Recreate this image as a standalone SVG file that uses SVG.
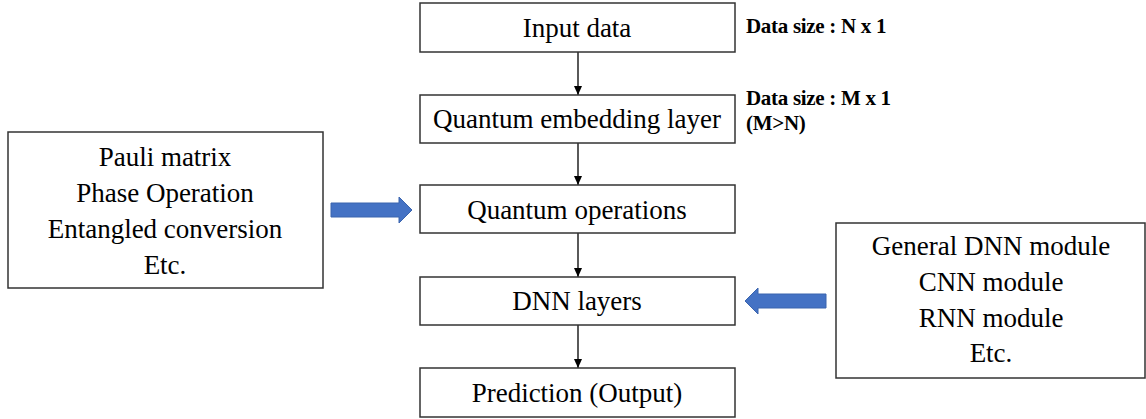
<svg xmlns="http://www.w3.org/2000/svg" width="1146" height="419" viewBox="0 0 1146 419">
<defs>
<style>
.box{fill:#fff;stroke:#333;stroke-width:1.5}
.t{font-family:"Liberation Serif","Times New Roman",serif;font-size:27px;fill:#000;text-anchor:middle}
.lbl{font-family:"Liberation Serif","Times New Roman",serif;font-size:21px;font-weight:bold;fill:#000;letter-spacing:-0.3px}
.conn{stroke:#000;stroke-width:1.3;fill:none}
.blue{fill:#4472C4;stroke:#3A64AE;stroke-width:1}
</style>
<marker id="ah" markerWidth="10" markerHeight="10" refX="9" refY="5" orient="auto" markerUnits="userSpaceOnUse">
<path d="M0,1 L9,5 L0,9 Z" fill="#000"/>
</marker>
</defs>
<rect width="1146" height="419" fill="#fff"/>
<g id="connectors">
<line class="conn" x1="578" y1="52" x2="578" y2="95" marker-end="url(#ah)"/>
<line class="conn" x1="578" y1="143" x2="578" y2="185" marker-end="url(#ah)"/>
<line class="conn" x1="578" y1="233" x2="578" y2="277" marker-end="url(#ah)"/>
<line class="conn" x1="578" y1="325" x2="578" y2="368" marker-end="url(#ah)"/>
<polygon class="blue" points="331,203 399,203 399,197 412,210 399,223 399,217 331,217"/>
<polygon class="blue" points="826,294 758,294 758,288 745,301 758,314 758,308 826,308"/>
</g>
<g id="input">
<rect class="box" x="420" y="3" width="315" height="49"/>
<text class="t" x="577" y="37">Input data</text>
</g>
<g id="embedding">
<rect class="box" x="420" y="95" width="315" height="48"/>
<text class="t" x="577" y="128">Quantum embedding layer</text>
</g>
<g id="operations">
<rect class="box" x="420" y="185" width="315" height="48"/>
<text class="t" x="577" y="219">Quantum operations</text>
</g>
<g id="dnn">
<rect class="box" x="420" y="277" width="315" height="48"/>
<text class="t" x="577" y="310">DNN layers</text>
</g>
<g id="prediction">
<rect class="box" x="420" y="368" width="315" height="49"/>
<text class="t" x="577" y="402">Prediction (Output)</text>
</g>
<g id="quantum-ops-list">
<rect class="box" x="8" y="132" width="315" height="156"/>
<text class="t" x="165" y="166">Pauli matrix</text>
<text class="t" x="165" y="202">Phase Operation</text>
<text class="t" x="165" y="238">Entangled conversion</text>
<text class="t" x="165" y="274">Etc.</text>
</g>
<g id="dnn-modules">
<rect class="box" x="836" y="223" width="309" height="155"/>
<text class="t" x="991" y="255">General DNN module</text>
<text class="t" x="991" y="291">CNN module</text>
<text class="t" x="991" y="327">RNN module</text>
<text class="t" x="991" y="362">Etc.</text>
</g>
<g id="size-labels">
<text class="lbl" x="746" y="33">Data size : N x 1</text>
<text class="lbl" x="746" y="105">Data size : M x 1</text>
<text class="lbl" x="746" y="130">(M&gt;N)</text>
</g>
</svg>
